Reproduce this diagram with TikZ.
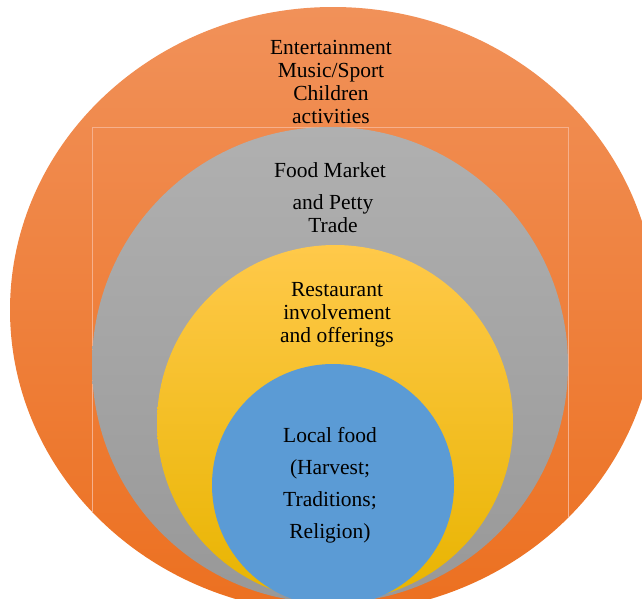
\documentclass[tikz,border=0pt]{standalone}
\usepackage{fontspec}
\setmainfont{Liberation Serif}
\definecolor{orTop}{HTML}{F19159}
\definecolor{orBot}{HTML}{EC7020}
\definecolor{grTop}{HTML}{B0B0B0}
\definecolor{grBot}{HTML}{989898}
\definecolor{yeTop}{HTML}{FFC94A}
\definecolor{yeMid}{HTML}{FFC000}
\definecolor{yeBot}{HTML}{E8B400}
\definecolor{blFill}{HTML}{5B9BD5}
\definecolor{rectLine}{HTML}{F6B08C}
\tikzset{
  lbl/.style={align=center, text=black, inner sep=0pt, font=\fontsize{21.5}{23}\selectfont},
  lblwide/.style={align=center, text=black, inner sep=0pt, font=\fontsize{21.5}{32}\selectfont}
}
\begin{document}
\begin{tikzpicture}[x=1pt,y=-1pt]
\useasboundingbox (0,0) rectangle (642,598);
\clip (0,0) rectangle (642,598);
% outer ellipse
\shade[top color=orTop, bottom color=orBot] (333,310) ellipse [x radius=323, y radius=303];
\begin{scope}
  \clip (333,310) ellipse [x radius=323, y radius=303];
  \draw[rectLine, line width=0.6pt] (92.5,127) rectangle (568,640);
\end{scope}
% gray circle
\shade[top color=grTop, bottom color=grBot] (330,365) circle [radius=238];
% yellow circle
\shade[top color=yeTop, middle color=yeMid, bottom color=yeBot] (335,423) circle [radius=178];
% blue circle
\fill[blFill] (333,485) ellipse [x radius=121, y radius=121];
% labels (anchor=base is the baseline of the last line)
\node[lbl, anchor=base] (ent) at (331,123) {Entertainment\\Music/Sport\\Children\\activities};
\node[lbl, anchor=base] (fm1) at (330,177) {Food Market};
\node[lbl, anchor=base] (fm2) at (333,232) {and Petty\\Trade};
\node[lbl, anchor=base] (rest) at (337,342) {Restaurant\\involvement\\and offerings};
\node[lblwide, anchor=base] (local) at (330,538) {Local food\\(Harvest;\\Traditions;\\Religion)};
\end{tikzpicture}
\end{document}
